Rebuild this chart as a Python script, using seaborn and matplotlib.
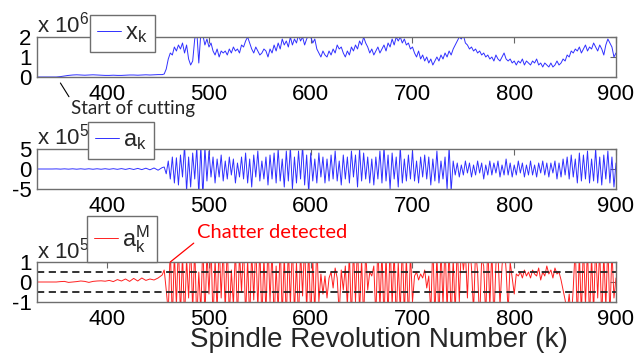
import numpy as np
import pandas as pd
import matplotlib
matplotlib.use("Agg")
import matplotlib.pyplot as plt
import seaborn as sns

# ---------------- data ----------------
# revolution numbers: coarse grid in the quiet part, finer grid after chatter starts
rev_quiet = list(range(330, 455, 4))
rev_active = list(range(456, 901, 2))
revs = rev_quiet + rev_active

# x_k  (units of 1e6)
xk_quiet = [0, 0, 0, 0, 0, 0, 0.02, 0.05, 0.08, 0.1, 0.11, 0.1, 0.09, 0.1, 0.11, 0.1,
            0.09, 0.08, 0.08, 0.09, 0.08, 0.08, 0.09, 0.1, 0.1, 0.09, 0.1, 0.11, 0.1,
            0.11, 0.12, 0.12]
xk_active = [0.15, 0.4, 0.9, 1.2, 1.1, 1.5, 1.3, 1.6, 1.4, 1.7,
             1.2, 1.6, 0.9, 0.6, 0.8, 1.9, 2.3, 0.7, 2.2, 2.1,
             1.6, 1.9, 1.5, 1.7, 1.3, 1.1, 1.4, 1.0, 1.3, 1.2,
             1.3, 1.1, 1.4, 1.2, 1.5, 1.3, 1.4, 1.2, 1.6, 1.5,
             1.8, 2.0, 1.7, 1.4, 1.2, 1.5, 1.3, 1.1, 1.2, 1.4,
             1.3, 1.0, 1.4, 1.2, 1.6, 1.3, 1.7, 1.4, 1.9, 1.6,
             1.8, 1.5, 2.0, 1.6, 1.9, 1.7, 2.1, 1.8, 2.0, 1.6,
             1.9, 2.1, 2.0, 1.7, 1.9, 1.4, 1.2, 1.0, 1.3, 1.1,
             1.0, 1.3, 1.1, 1.4, 1.2, 1.6, 1.4, 1.5, 1.2, 1.0,
             1.3, 1.1, 1.5, 1.3, 1.6, 1.4, 1.8, 1.6, 2.0, 1.7,
             1.5, 1.2, 1.4, 1.1, 1.3, 1.5, 1.2, 1.4, 1.6, 1.3,
             1.7, 1.5, 1.9, 1.6, 2.0, 1.8, 2.0, 1.7, 1.9, 1.6,
             1.7, 1.4, 1.5, 1.2, 1.0, 1.3, 0.9, 1.1, 0.8, 1.0,
             0.7, 0.9, 0.6, 0.8, 1.0, 0.8, 1.1, 0.9, 1.2, 1.0,
             1.3, 1.1, 1.4, 1.6, 1.8, 2.0, 1.9, 2.1, 1.7, 1.6,
             1.4, 1.5, 1.3, 1.4, 1.2, 1.3, 1.1, 1.2, 1.0, 1.1,
             0.9, 1.0, 0.8, 1.1, 0.9, 0.8, 1.0, 1.2, 0.9, 0.8,
             0.9, 0.7, 0.8, 0.6, 0.8, 0.7, 0.9, 0.6, 0.8, 0.7,
             0.6, 0.8, 0.7, 0.9, 0.6, 0.7, 0.5, 0.7, 0.6, 0.5,
             0.7, 0.5, 0.6, 0.8, 0.6, 0.7, 0.9, 0.8, 1.1, 1.0,
             1.3, 1.2, 1.4, 1.3, 1.5, 1.2, 1.4, 1.6, 1.3, 1.5,
             1.4, 1.7, 1.5, 1.3, 1.6, 1.4, 1.1, 1.6, 1.9, 1.7,
             1.5, 1.0, 1.2]

# a_k  (units of 1e5)
ak_quiet = [0, 0, 0, 0, 0, 0.03, -0.03, 0.04, -0.04, 0.05, -0.05, 0.05, -0.05, 0.06,
            -0.06, 0.06, -0.06, 0.07, -0.07, 0.08, -0.08, 0.1, -0.1, 0.12, -0.12, 0.15,
            -0.15, 0.2, -0.2, 0.25, -0.3, 0.35]
ak_active = [0.5, -1.2, 2.0, -2.5, 3.0, -3.5, 2.8, -4.0, 3.5, -2.0,
             6.0, -5.5, 3.0, -4.5, 4.0, -2.5, 5.5, -6.5, 6.0, -7.0,
             5.5, -3.0, 4.5, -2.0, 3.0, -3.5, 2.5, -2.0, 3.5, -3.0,
             2.0, -2.5, 3.0, -1.5, 2.5, -3.5, 1.5, -2.0, 3.0, -2.5,
             4.0, -3.5, 2.5, -4.5, 3.5, -2.0, 4.5, -3.0, 2.0, -2.5,
             3.0, -4.0, 3.5, -2.5, 4.0, -3.5, 5.0, -3.0, 2.5, -4.5,
             4.5, -3.0, 5.5, -5.0, 3.0, -3.5, 4.5, -2.5, 6.0, -4.0,
             3.5, -6.0, 4.0, -3.0, 2.5, -3.5, 4.0, -2.0, 3.0, -3.5,
             2.5, -3.0, 3.5, -2.5, 4.5, -3.0, 2.0, -4.0, 3.5, -2.5,
             3.0, -3.5, 4.5, -2.0, 3.5, -4.5, 5.0, -3.0, 4.0, -2.5,
             3.0, -3.5, 2.5, -4.0, 3.0, -2.5, 4.5, -3.5, 5.5, -3.0,
             3.5, -5.0, 4.0, -2.5, 3.0, -4.5, 5.5, -3.5, 2.5, -3.0,
             3.5, -2.5, 4.5, -3.0, 2.0, -3.5, 3.0, -2.0, 3.5, -2.5,
             3.0, -4.0, 2.5, -3.0, 4.5, -3.5, 2.0, -2.5, 3.0, -5.0,
             5.5, -5.5, 2.0, -1.5, 1.5, -2.0, 1.0, -1.5, 2.0, -1.0,
             1.5, -2.0, 1.0, -1.5, 2.0, -1.0, 1.5, -2.5, 1.0, -1.5,
             2.0, -1.5, 1.5, -1.0, 2.0, -2.0, 1.0, -1.5, 2.5, -1.5,
             1.5, -2.0, 1.0, -1.5, 2.0, -1.0, 1.5, -2.0, 1.0, -1.5,
             2.0, -1.5, 1.0, -2.0, 1.5, -1.0, 2.0, -1.5, 1.5, -2.0,
             1.5, -1.0, 2.0, -2.5, 1.5, -2.0, 2.5, -1.5, 3.0, -2.5,
             3.5, -2.0, 2.5, -3.5, 4.0, -3.0, 3.5, -2.5, 4.5, -3.5,
             2.5, -3.0, 5.0, -3.5, 3.0, -4.0, 3.5, -2.5, 4.5, -3.5,
             3.0, -4.5, 1.5]

# a_k^M  (units of 1e5)
akm_quiet = [0, 0, 0, 0, 0, 0, 0.02, 0.03, -0.02, 0.0, 0.02, 0.05, 0.03, -0.02, 0.03,
             0.05, 0.06, 0.04, 0.08, 0.02, 0.12, 0.05, 0.15, 0.03, 0.18, 0.05, 0.2,
             0.08, 0.15, 0.1, 0.2, 0.35]
akm_active = [0.6, -0.4, -1.5, 1.8, -2.0, 1.5, -1.2, 2.0, -1.8, 1.5,
              -2.0, 1.2, -0.8, 2.0, -1.5, 1.8, -2.0, 0.5, -1.5, 2.0,
              -1.8, 1.5, -0.6, 1.9, -2.0, 1.2, -1.5, 2.0, -0.8, 1.8,
              -1.5, 2.0, -1.8, 0.6, -1.2, 1.8, -2.0, 1.5, -0.5, 2.0,
              -1.8, 1.2, -2.0, 1.6, -0.9, 2.0, -1.4, 1.8, -2.0, 1.3,
              -1.6, 2.0, -1.0, 1.7, -2.0, 0.8, -1.5, 2.0, -1.8, 1.4,
              -2.0, 1.8, -1.2, 2.0, -1.6, 1.0, -2.0, 1.6, -0.7, 2.0,
              -1.5, 1.8, -2.0, 1.2, -1.6, 2.0, -1.0, 0.4, -0.6, 0.3,
              -0.8, 0.2, 0.5, -0.3, 0.7, 0.2, -1.6, 0.6, -0.4, 0.8,
              -1.2, 1.5, -2.0, 1.8, -1.0, 2.0, -1.6, 1.2, -2.0, 1.6,
              -0.4, 0.5, 0.3, 0.8, -1.8, 2.0, -1.4, 1.6, -2.0, 1.4,
              -1.8, 2.0, -1.2, 1.6, -2.0, 1.0, -1.5, 2.0, -1.7, 1.3,
              -2.0, 1.5, -1.0, 0.3, 0.5, 0.1, 0.4, 0.2, 0.6, -0.3,
              0.3, -1.6, 2.0, -1.8, 1.4, -2.0, 1.7, -1.2, 2.0, -1.5,
              1.8, -2.0, 1.2, -1.6, 2.0, -1.0, 1.8, 0.6, 1.5, -0.8,
              2.0, 0.7, -1.5, 1.6, 0.5, -2.0, 1.2, 0.8, -1.8, 2.0,
              -1.3, 1.7, -2.0, 0.9, 1.5, -1.2, 0.8, 2.0, 0.6, -1.5,
              1.0, 0.2, -0.6, 0.4, 0.3, 0.5, 0.2, 0.6, 0.3, 0.5,
              0.2, 0.6, 0.4, 0.3, 0.7, 0.1, 0.5, 0.3, 0.8, 0.4,
              0.6, 0.2, 0.7, 0.4, 0.5, 0.1, -0.4, -0.9, -1.5, -0.6,
              -2.0, -0.3, 1.8, -2.0, 1.5, -1.7, 2.0, -1.2, 1.8, -2.0,
              1.4, -1.6, 2.0, -0.8, 1.7, -2.0, 1.5, -1.3, 2.0, -1.8,
              1.6, -0.8, 0.2]

threshold = 0.5  # dashed threshold lines (units of 1e5)
x_ticks = [400, 500, 600, 700, 800, 900]

df = pd.DataFrame({
    "rev": revs,
    "xk": xk_quiet + xk_active,
    "ak": ak_quiet + ak_active,
    "akm": akm_quiet + akm_active,
})

# ---------------- style ----------------
sns.set_style("white")
plt.rcParams["font.family"] = ["Liberation Sans", "DejaVu Sans"]
plt.rcParams["mathtext.default"] = "regular"
plt.rcParams["axes.unicode_minus"] = False

W, H = 644, 355
fig = plt.figure(figsize=(W / 100, H / 100), dpi=100)


def px_axes(left, top, right, bottom):
    return fig.add_axes([left / W, 1 - bottom / H, (right - left) / W, (bottom - top) / H])


ax1 = px_axes(37, 37, 616, 77)
ax2 = px_axes(37, 149, 616, 189)
ax3 = px_axes(37, 262, 616, 302)

FS = 16
blue = "#3030ff"
red = "#ff2020"

sns.lineplot(data=df, x="rev", y="xk", ax=ax1, color=blue, lw=0.7, label="$x_k$")
sns.lineplot(data=df, x="rev", y="ak", ax=ax2, color=blue, lw=0.7, label="$a_k$")
sns.lineplot(data=df, x="rev", y="akm", ax=ax3, color=red, lw=0.7, label="$a_k^M$")
for yv in (threshold, -threshold):
    ax3.axhline(yv, color="#222222", lw=1.3, dashes=(4, 2.5))

specs = [
    (ax1, (0, 2), [0, 1, 2], "6", (90, 15)),
    (ax2, (-5, 5), [-5, 0, 5], "5", (88, 122)),
    (ax3, (-1, 1), [-1, 0, 1], "5", (87, 216)),
]
for ax, ylim, yticks, expo, legpos in specs:
    ax.set_xlim(331, 900)
    ax.set_ylim(*ylim)
    ax.set_xticks(x_ticks)
    ax.set_yticks(yticks)
    ax.set_xlabel("")
    ax.set_ylabel("")
    ax.tick_params(direction="in", length=4, width=0.8, top=True, right=True,
                   labelsize=FS, colors="#666666", labelcolor="black")
    ax.tick_params(axis="y", pad=4)
    ax.tick_params(axis="x", pad=5)
    for s in ax.spines.values():
        s.set_visible(True)
        s.set_color("#6e6e6e")
        s.set_linewidth(1.0)
    ax.text(0, 1.1, "x 10$^{" + expo + "}$", transform=ax.transAxes,
            ha="left", va="baseline", fontsize=FS)
    leg = ax.legend(loc="upper left", bbox_to_anchor=(legpos[0] / W, 1 - legpos[1] / H),
                    bbox_transform=fig.transFigure, fontsize=FS + 1, frameon=True,
                    fancybox=False, framealpha=1, edgecolor="#6e6e6e",
                    handlelength=1.0, handletextpad=0.2, borderpad=0.3,
                    borderaxespad=0)
    leg.get_frame().set_linewidth(1.0)
    leg.set_zorder(10)

ax3.set_xlabel("Spindle Revolution Number (k)", fontsize=20)
ax3.xaxis.label.set_va("baseline")
ax3.xaxis.set_label_coords((379 - 37) / 579, -(347 - 302) / 40)

# annotations
ax1.annotate("Start of cutting", xy=(354, -0.3), xycoords="data",
             xytext=(71 / W, 1 - 114 / H), textcoords="figure fraction",
             ha="left", va="baseline", fontsize=13.5, family=["Lato", "DejaVu Sans"],
             annotation_clip=False,
             arrowprops=dict(arrowstyle="-", color="black", lw=0.8,
                             relpos=(0, 1), shrinkA=0, shrinkB=0))
ax3.annotate("Chatter detected", xy=(462, 1.0), xycoords="data",
             xytext=(197 / W, 1 - 232 / H), textcoords="figure fraction",
             ha="left", va="center", fontsize=14.5, color="red",
             family=["Lato", "DejaVu Sans"], annotation_clip=False,
             arrowprops=dict(arrowstyle="-", color="red", lw=0.9,
                             relpos=(0, 0), shrinkA=0, shrinkB=0))

fig.savefig("out.png", dpi=100)
